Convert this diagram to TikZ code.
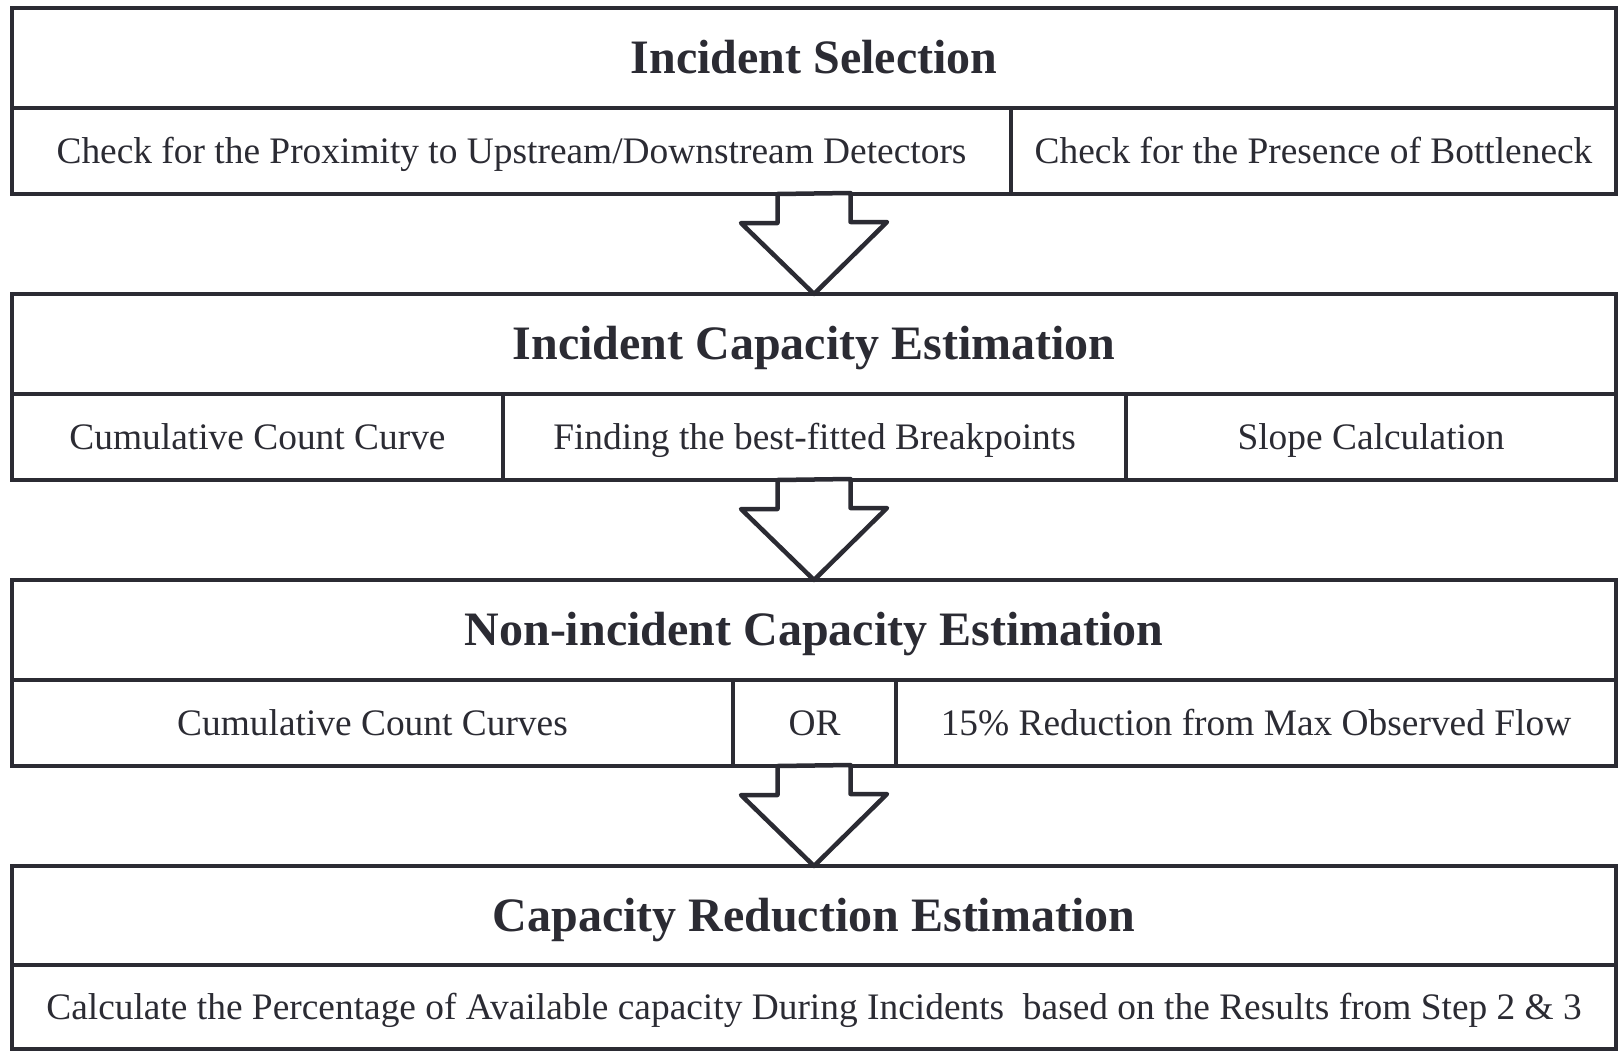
\documentclass[tikz,border=0pt]{standalone}
\usepackage{fontspec}
\setmainfont{Liberation Serif}
\usetikzlibrary{calc}
\definecolor{ink}{RGB}{43,43,51}

\begin{document}
\begin{tikzpicture}[x=1pt,y=-1pt,
  hdr/.style={draw=ink, line width=4.5pt, rectangle, inner sep=0pt, outer sep=0pt, minimum width=1604pt, minimum height=100pt, text height=41.3pt, text depth=9.6pt, text=ink, font=\fontsize{48}{56}\selectfont\bfseries},
  cell/.style={draw=ink, line width=4.5pt, rectangle, inner sep=0pt, outer sep=0pt, minimum height=86pt, text height=32.2pt, text depth=7.5pt, text=ink, font=\fontsize{37.4}{44}\selectfont},
  blockarrow/.style={draw=ink, line width=4.5pt, line join=round, fill=white}]
\useasboundingbox (0,0) rectangle (1619,1052);

% step 1
\node[hdr] (h1) at (814,58) {Incident Selection};
\node[cell, minimum width=999pt] (prox) at (511.5,151) {Check for the Proximity to Upstream/Downstream Detectors};
\node[cell, minimum width=605pt] (bott) at (1313.5,151) {Check for the Presence of Bottleneck};

% step 2
\node[hdr] (h2) at (814,344) {Incident Capacity Estimation};
\node[cell, minimum width=491pt] (ccc) at (257.5,437) {Cumulative Count Curve};
\node[cell, minimum width=623pt] (brk) at (814.5,437) {Finding the best-fitted Breakpoints};
\node[cell, minimum width=490pt] (slope) at (1371,437) {Slope Calculation};

% step 3
\node[hdr] (h3) at (814,630) {Non-incident Capacity Estimation};
\node[cell, minimum width=721pt] (cccs) at (372.5,723) {Cumulative Count Curves};
\node[cell, minimum width=163pt] (or) at (814.5,723) {OR};
\node[cell, minimum width=720pt] (red) at (1256,723) {15\%\ Reduction from Max Observed Flow};

% step 4
\node[hdr, minimum height=99pt] (h4) at (814,915.5) {Capacity Reduction Estimation};
\node[cell, minimum width=1604pt, minimum height=84pt] (calc) at (814,1007) {Calculate the Percentage of Available capacity During Incidents\ \ based on the Results from Step 2 \& 3};

% arrows
\foreach \a/\b/\c in {h1/prox/h2, h2/brk/h3, h3/or/h4}{
  \draw[blockarrow] (\a.south |- \b.south) ++(-36.5,0) -- ++(0,29) -- ++(-36.5,0) -- (\c.north) -- ++(73,-72) -- ++(-36.5,0) -- ++(0,-29) -- cycle;
}

\end{tikzpicture}
\end{document}
